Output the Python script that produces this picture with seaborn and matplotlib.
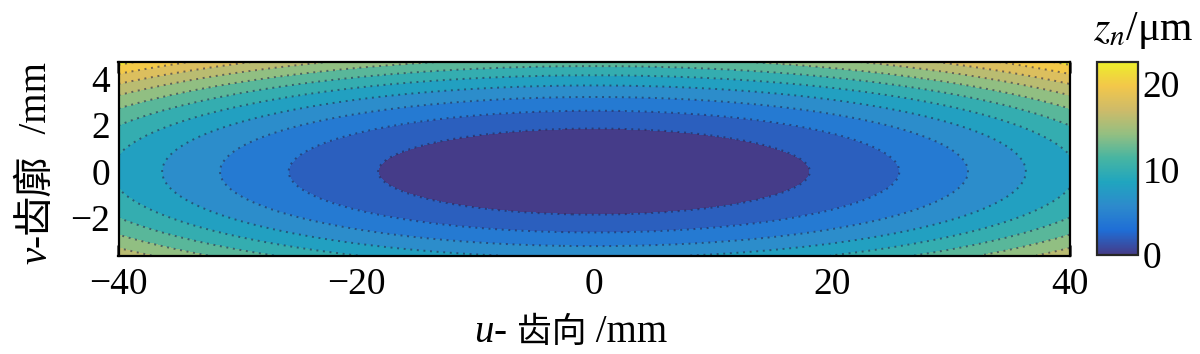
"""
Filled contour of the tooth-surface deviation z_n over the (u, v) plane
"""

import numpy as np
import seaborn as sns
import matplotlib.pyplot as plt
from matplotlib import colors as mcolors
from matplotlib import cm
from matplotlib.transforms import IdentityTransform

# plot extents (mm)
u_lim = [-40, 40]
v_lim = [-3.6, 4.7]

# where the contour boundaries cross the two axes
u_levels = [2, 4, 6, 8]
u_cross = [18.15, 25.7, 31.4, 36.4]          # mm along v = 0
v_levels = [2, 4, 6, 8, 10, 12]
v_cross = [1.80, 2.72, 3.22, 3.66, 4.16, 4.44]  # mm along u = 0

z_levels = [0, 2, 4, 6, 8, 10, 12, 14, 16, 18, 20, 22, 24]

x_ticks = [-40, -30, -20, -10, 0, 10, 20, 30, 40]
x_ticklabels = ['\u221240', '', '\u221220', '', '0', '', '20', '', '40']
y_ticks = [-2, 0, 2, 4]
cbar_ticks = [0, 10, 20]

# parula anchors
parula = ['#352a87', '#0363e1', '#1485d4', '#06a7c6', '#33b8a1',
          '#8bbf75', '#d2bb58', '#fec932', '#f9fb0e']

sns.set_style('ticks')
plt.rcParams['font.family'] = ['Liberation Serif', 'Noto Sans CJK SC']
plt.rcParams['mathtext.fontset'] = 'stix'
plt.rcParams['text.color'] = 'black'

FS = 27

# surface z = a u^2 + b v^2 fitted to the crossings
a = np.mean(np.array(u_levels) / np.array(u_cross) ** 2)
b = np.mean(np.array(v_levels) / np.array(v_cross) ** 2)
u = np.linspace(u_lim[0], u_lim[1], 401)
v = np.linspace(v_lim[0], v_lim[1], 241)
U, V = np.meshgrid(u, v)
Z = a * U ** 2 + b * V ** 2

# slightly washed-out parula, like the printed figure
faded = [mcolors.to_hex(0.94 * np.array(mcolors.to_rgb(sns.desaturate(c, 0.88))) + 0.06)
         for c in parula]
cmap = sns.blend_palette(faded, n_colors=256, as_cmap=True)
norm = mcolors.Normalize(vmin=0, vmax=Z.max())
# each band takes the colour of its lower level (MATLAB contourf)
band_colors = [cmap(norm(lv)) for lv in z_levels[:-1]]

fig = plt.figure(figsize=(12, 3.54), dpi=100)
ax = fig.add_axes([118.5 / 1200, (354 - 255.5) / 354, 951 / 1200, 193.5 / 354])
cax = fig.add_axes([1096.7 / 1200, (354 - 254.5) / 354, 41.6 / 1200, 193 / 354])

ax.contourf(U, V, Z, levels=z_levels, colors=band_colors)
ax.contour(U, V, Z, levels=z_levels[1:-1], colors='#25254a', linewidths=1.4,
           linestyles=[(0, (1, 2.4))], alpha=0.6)

ax.set_xlim(u_lim)
ax.set_ylim(v_lim)
ax.set_xticks(x_ticks)
ax.set_xticklabels(x_ticklabels)
ax.set_yticks(y_ticks)
ax.tick_params(direction='in', top=True, right=True, length=8, width=1.8,
               color='#333333', labelcolor='black', labelsize=FS, pad=6)
ax.tick_params(axis='x', pad=9)
for s in ax.spines.values():
    s.set_linewidth(1.6)
    s.set_color('black')

# colorbar
cb = fig.colorbar(cm.ScalarMappable(norm=norm, cmap=cmap), cax=cax)
cb.set_ticks(cbar_ticks)
cb.outline.set_linewidth(1.6)
cax.tick_params(length=0, labelsize=FS, labelcolor='black', pad=3)

fig.text(1143, 314, r'$z_n$/μm', transform=IdentityTransform(),
         ha='center', va='baseline', fontsize=30)


def put_label(parts, x, y, rotation=0):
    """place text pieces one after another, centred on (x, y) in pixels"""
    renderer = fig.canvas.get_renderer()
    texts = []
    for s, kw in parts:
        t = fig.text(0, 0, s, transform=IdentityTransform(), ha='left',
                     va='baseline', rotation=rotation, rotation_mode='anchor', **kw)
        texts.append(t)
    lengths = []
    for t in texts:
        bb = t.get_window_extent(renderer)
        lengths.append(bb.width if rotation == 0 else bb.height)
    pos = -sum(lengths) / 2
    for t, L in zip(texts, lengths):
        if rotation == 0:
            t.set_position((x + pos, y))
        else:
            t.set_position((x, y + pos))
        pos += L


latin = dict(fontsize=28, family='Liberation Serif')
ital = dict(fontsize=28, family='Liberation Serif', style='italic')

put_label([('u', ital), ('- ', latin), ('齿向', dict(fontsize=25, family='Noto Sans CJK SC')),
           (' /mm', latin)], 571, 12)
put_label([('v', ital), ('-', latin), ('齿廓', dict(fontsize=29, family='Noto Sans CJK SC')),
           ('  /mm', latin)], 46, 191, rotation=90)

fig.savefig('out.png', dpi=100)
